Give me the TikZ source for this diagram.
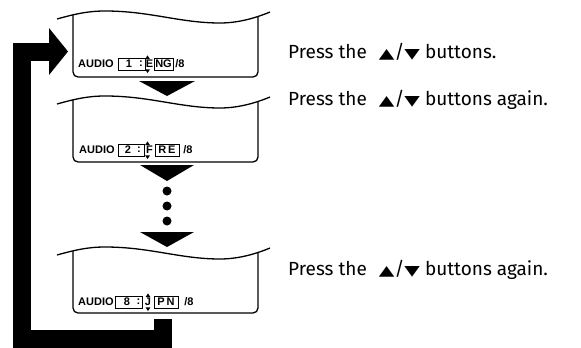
\documentclass[tikz,border=0pt]{standalone}
\usepackage{fontspec}
\setmainfont{Fira Sans}
\newfontfamily\symfont{DejaVu Sans}
\newfontfamily\lcdfont{Liberation Sans}
\newcommand\upsym{\scalebox{1.45}[1]{\symfont\fontsize{14}{15}\selectfont ▲}}
\newcommand\dnsym{\scalebox{1.45}[1]{\symfont\fontsize{14}{15}\selectfont ▼}}
\newcommand\updn{\hspace{12pt}\upsym/\dnsym\hspace{5pt}}
\newcommand\myframe{%
  \draw[wave] (57,19) .. controls (75,14) and (88,11) .. (105,11)
     .. controls (150,11) and (180,23) .. (220,23)
     .. controls (240,23) and (258,17) .. (270,12);
  \draw[boxline, rounded corners=5pt] (73,15) -- (73,77) -- (258,77) -- (258,16.6);
}
\newcommand\mytri[2]{\fill (#1-2.4,#2-5) -- (#1+2.4,#2-5) -- (#1,#2-8.6) -- cycle
  (#1-2.4,#2+5.4) -- (#1+2.4,#2+5.4) -- (#1,#2+9) -- cycle;}
\tikzset{
  wave/.style={line width=1.3pt},
  boxline/.style={line width=1.3pt},
  lcd/.style={font=\lcdfont\bfseries\fontsize{11}{12}\selectfont, inner sep=0pt},
  fieldbox/.style={draw, line width=0.9pt, inner sep=0pt},
  bigtri/.style={fill=black},
  bigdot/.style={circle, fill=black, inner sep=0pt, minimum size=9pt},
  loopline/.style={line width=18pt, line join=miter},
  note/.style={font=\fontsize{19}{21}\selectfont, anchor=base west, inner sep=0pt},
}
\begin{document}
\begin{tikzpicture}[x=1pt,y=-1pt]
\useasboundingbox (0,0) rectangle (581,348);
% ---------- display 1
\begin{scope}
  \myframe
  \node[lcd, anchor=west] (a1) at (78,64) {AUDIO};
  \draw[fieldbox] (118,58) rectangle (145,70);
  \node[lcd] (n1) at (129,64) {1};
  \node[lcd] (c1) at (141,63.5) {:};
  \node[lcd] (l1) at (149.5,64) {E};
  \mytri{147.5}{64}
  \draw[fieldbox] (154,58) rectangle (173,70);
  \node[lcd] (m1) at (163.5,64) {NG};
  \node[lcd] (s1) at (180,64) {/8};
\end{scope}
% ---------- display 2
\begin{scope}[shift={(0,85)}]
  \myframe
  \node[lcd, anchor=west] (a2) at (79,65) {AUDIO};
  \draw[fieldbox] (118,59) rectangle (144,71);
  \node[lcd] (n2) at (128,65) {2};
  \node[lcd] (c2) at (139,64.5) {:};
  \node[lcd] (l2) at (149.5,65) {F};
  \mytri{147.5}{65}
  \draw[fieldbox] (155,59) rectangle (179,71);
  \node[lcd] (m2) at (167,65) {R\,E};
  \node[lcd] (s2) at (188,65) {/8};
\end{scope}
% ---------- display 3
\begin{scope}[shift={(0,236)}]
  \myframe
  \node[lcd, anchor=west] (a3) at (78,66) {AUDIO};
  \draw[fieldbox] (115,60) rectangle (142,72);
  \node[lcd] (n3) at (127,66) {8};
  \node[lcd] (c3) at (138.5,65.5) {:};
  \node[lcd] (l3) at (148,66) {J};
  \mytri{148}{66}
  \draw[fieldbox] (154,60) rectangle (178,72);
  \node[lcd] (m3) at (166,66) {P\,N};
  \node[lcd] (s3) at (189,66) {/8};
\end{scope}
% ---------- down arrows and dots
\fill[bigtri] (139,81) -- (195,81) -- (167,96) -- cycle;
\fill[bigtri] (140,165) -- (194,165) -- (167,181) -- cycle;
\node[bigdot] (d1) at (167,191) {};
\node[bigdot] (d2) at (167,206) {};
\node[bigdot] (d3) at (167,221) {};
\fill[bigtri] (140,232) -- (194,232) -- (167,247) -- cycle;
% ---------- loop arrow
\coordinate (loopstart) at (163,319);
\coordinate (loopend) at (68,51.5);
\draw[loopline] (loopstart) -- (163,339) -- (22,339) -- (22,51.5) -- (50,51.5);
\fill (49,28) -- (loopend) -- (49,75) -- cycle;
% ---------- notes
\node[note] (t1) at (288,58) {Press the\updn buttons.};
\node[note] (t2) at (288,105) {Press the\updn buttons again.};
\node[note] (t3) at (288,275) {Press the\updn buttons again.};
\end{tikzpicture}
\end{document}
